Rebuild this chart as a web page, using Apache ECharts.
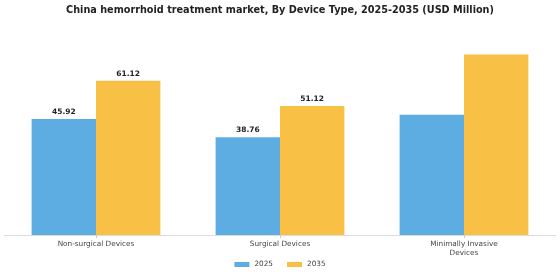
<!DOCTYPE html>
<html>
<head>
<meta charset="utf-8">
<script src="https://cdn.jsdelivr.net/npm/echarts@6/dist/echarts.min.js"></script>
<style>
html,body{margin:0;padding:0;background:#fff;}
#main{width:560px;height:280px;}
</style>
</head>
<body>
<div id="main"></div>
<script>
var categories = ['Non-surgical Devices', 'Surgical Devices', 'Minimally Invasive\nDevices'];
var years = ['2025', '2035'];
var values2025 = [45.92, 38.76, 47.6];
var values2035 = [61.12, 51.12, 71.5];
var showLabel = [true, true, false];

function buildData(vals) {
	var out = [];
	for (var i = 0; i < vals.length; i++) {
		out.push({ value: vals[i], label: { show: showLabel[i] } });
	}
	return out;
}

var myChart = echarts.init(document.getElementById('main'));
var labelStyle = {
	show: true,
	position: 'top',
	distance: 3,
	color: '#222',
	fontSize: 7.5,
	fontWeight: 'bold',
	fontFamily: 'DejaVu Sans',
	formatter: function (p) { return p.value.toFixed(2); }
};
var option = {
	backgroundColor: '#fff',
	animation: false,
	title: {
		text: 'China hemorrhoid treatment market, By Device Type, 2025-2035 (USD Million)',
		left: 'center',
		top: 0,
		textStyle: {
			color: '#222',
			fontSize: 9.7,
			fontWeight: 'bold',
			fontFamily: 'DejaVu Sans'
		}
	},
	legend: {
		data: years,
		top: 256,
		left: 'center',
		itemWidth: 15,
		itemHeight: 5,
		itemGap: 14,
		icon: 'rect',
		textStyle: { color: '#444', fontSize: 7.3, fontFamily: 'DejaVu Sans' }
	},
	grid: { left: 4, right: 4, top: 33, bottom: 45 },
	xAxis: {
		type: 'category',
		data: categories,
		axisTick: { show: true, alignWithLabel: true, length: 3, lineStyle: { color: '#ccc' } },
		axisLine: { lineStyle: { color: '#ddd' } },
		axisLabel: {
			color: '#444',
			fontSize: 7.3,
			fontFamily: 'DejaVu Sans',
			margin: 5,
			lineHeight: 8.5
		}
	},
	yAxis: {
		type: 'value',
		min: 0,
		max: 80,
		show: false,
		splitLine: { show: false }
	},
	series: [{
		name: years[0],
		type: 'bar',
		data: buildData(values2025),
		barGap: '0%',
		barCategoryGap: '30%',
		itemStyle: { color: '#5DADE2' },
		label: labelStyle
	}, {
		name: years[1],
		type: 'bar',
		data: buildData(values2035),
		barGap: '0%',
		barCategoryGap: '30%',
		itemStyle: { color: '#F8C045' },
		label: labelStyle
	}]
};
myChart.setOption(option);
</script>
</body>
</html>
